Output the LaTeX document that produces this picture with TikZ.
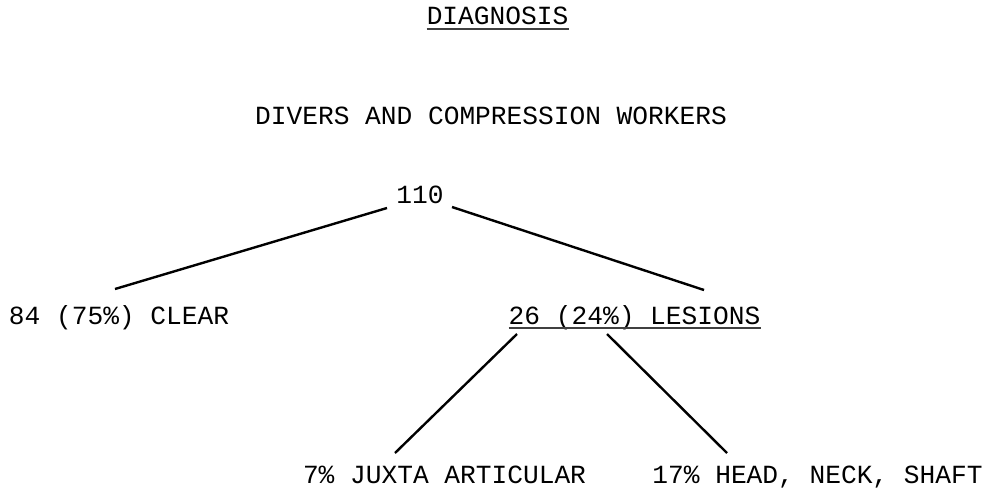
\documentclass[tikz,border=0pt]{standalone}
\usepackage{fontspec}
\setmainfont{Liberation Mono}
\begin{document}
\begin{tikzpicture}[x=1pt,y=-1pt,
  lbl/.style={inner sep=0pt,anchor=base,font=\fontsize{26.2}{30}\selectfont},
  branch/.style={line width=2.4pt,black},
  uline/.style={line width=1.8pt,black!75}]
\useasboundingbox (0,0) rectangle (991,491);
\node[lbl] (diag) at (497.5,24) {DIAGNOSIS};
\node[lbl] (divers) at (491,124) {DIVERS AND COMPRESSION WORKERS};
\node[lbl] (n110) at (420,203) {110};
\node[lbl] (clear) at (119,324) {84 (75\%) CLEAR};
\node[lbl] (lesions) at (634.5,324) {26 (24\%) LESIONS};
\node[lbl] (juxta) at (444.5,483) {7\% JUXTA ARTICULAR};
\node[lbl] (head) at (817.5,483) {17\% HEAD, NECK, SHAFT};
\draw[uline] ([shift={(0,5)}]diag.base west) -- ([shift={(1,5)}]diag.base east);
\draw[uline] ([shift={(0,4)}]lesions.base west) -- ([shift={(1,4)}]lesions.base east);
\draw[branch] ([shift={(-33,5)}]n110.base) -- ([shift={(-4,-35)}]clear.base);
\draw[branch] ([shift={(32,4)}]n110.base) -- ([shift={(69.5,-34)}]lesions.base);
\draw[branch] ([shift={(-117.5,10)}]lesions.base) -- ([shift={(-49.5,-30)}]juxta.base);
\draw[branch] ([shift={(-27.5,10)}]lesions.base) -- ([shift={(-90.5,-30)}]head.base);
\end{tikzpicture}
\end{document}
